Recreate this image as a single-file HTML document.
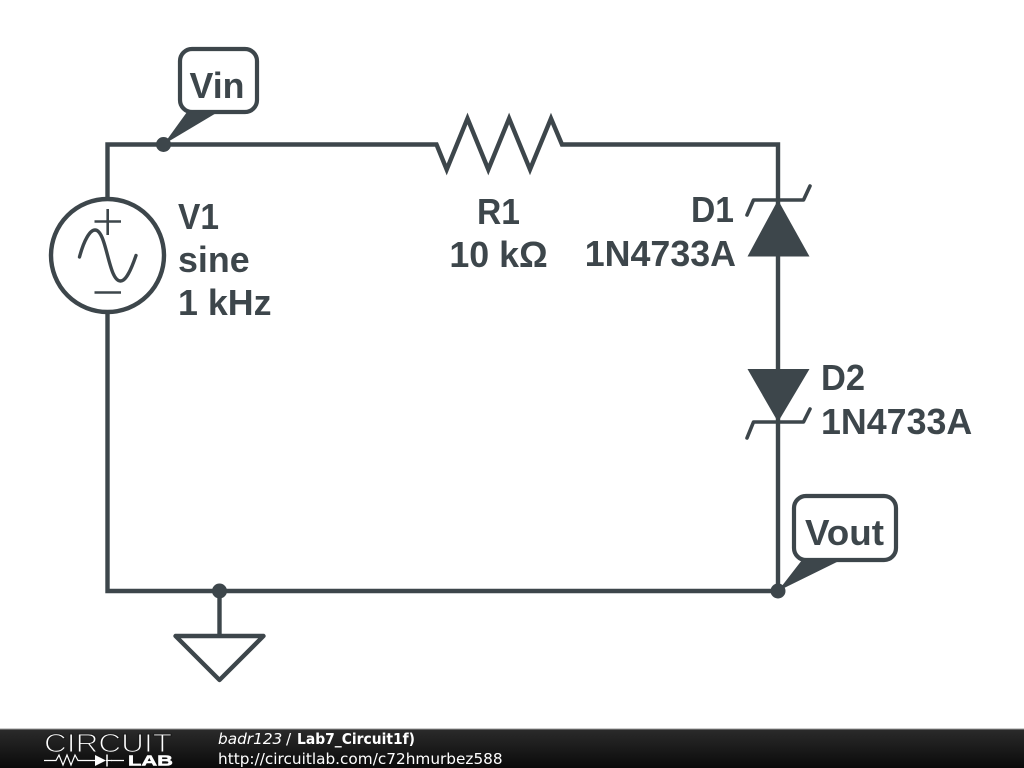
<!DOCTYPE html>
<html>
<head>
<meta charset="utf-8">
<style>
html,body{margin:0;padding:0;width:1024px;height:768px;overflow:hidden;background:#fff}
svg{display:block}
.l{font-family:"Liberation Sans",sans-serif;font-weight:bold;font-size:35.8px;fill:#3d464b}
.f{font-family:"DejaVu Sans",sans-serif;font-size:15.3px;fill:#fff}
</style>
</head>
<body>
<svg width="1024" height="768" viewBox="0 0 1024 768" xmlns="http://www.w3.org/2000/svg">
<defs>
<linearGradient id="bar" x1="0" y1="0" x2="0" y2="1">
<stop offset="0" stop-color="#2b2b2b"/>
<stop offset="1" stop-color="#0a0a0a"/>
</linearGradient>
</defs>
<rect width="1024" height="768" fill="#fff"/>
<g fill="none" stroke="#3d464b" stroke-width="4.400">
<!-- wires -->
<path d="M107.500 199V144.500H436.500L446.700 169.500L467.500 118.500L488.300 169.500L509.100 118.500L530 169.500L551 118.500L562 144.500H778V591H107.500V313"/>
<!-- source -->
<circle cx="107.500" cy="255.500" r="56.500"/>
<path d="M94.500 221.500H121M107.700 209V235M94.500 292.500H121" stroke-width="2.600"/>
<path d="M79.500 257C84 240 90 230 95 230C107 230 108 281 120.500 281C126 281 131 270 136 255.500" stroke-width="3.400" stroke-linecap="round"/>
<!-- ground -->
<path d="M219.500 591V636"/>
<path d="M175.500 636H263.500L219.500 680Z" stroke-linejoin="round"/>
<!-- zener bars -->
<path d="M747 215L753.500 200H803.500L810 186" stroke-linecap="round" stroke-linejoin="round" stroke-width="3.600"/>
<path d="M747 438L753.500 422H803.500L810 409" stroke-linecap="round" stroke-linejoin="round" stroke-width="3.600"/>
<!-- callout boxes -->
<rect x="180" y="49" width="77" height="63" rx="12" fill="#fff" stroke-width="4.200"/>
<rect x="794" y="496" width="102" height="64" rx="12" fill="#fff" stroke-width="4.200"/>
</g>
<g fill="#3d464b">
<path d="M778 200L809.500 256.500H747.500Z"/>
<path d="M747.500 369H809.500L778 422Z"/>
<path d="M187 112H218L163.500 144.500Z"/>
<path d="M802 560H841L778 591Z"/>
<circle cx="163.500" cy="144.500" r="7.500"/>
<circle cx="219.500" cy="591" r="7.500"/>
<circle cx="778" cy="591" r="7.500"/>
</g>
<text class="l" x="189.500" y="98" textLength="55" lengthAdjust="spacingAndGlyphs">Vin</text>
<text class="l" x="805" y="545" textLength="79" lengthAdjust="spacingAndGlyphs">Vout</text>
<text class="l" x="178" y="229" textLength="41" lengthAdjust="spacingAndGlyphs">V1</text>
<text class="l" x="178" y="272">sine</text>
<text class="l" x="178" y="315">1 kHz</text>
<text class="l" x="477" y="224" textLength="43" lengthAdjust="spacingAndGlyphs">R1</text>
<text class="l" x="498.500" y="267" text-anchor="middle">10 kΩ</text>
<text class="l" x="691" y="222" textLength="43" lengthAdjust="spacingAndGlyphs">D1</text>
<text class="l" x="736" y="266" text-anchor="end">1N4733A</text>
<text class="l" x="821" y="390" textLength="44" lengthAdjust="spacingAndGlyphs">D2</text>
<text class="l" x="821" y="434">1N4733A</text>
<!-- footer -->
<rect x="0" y="729" width="1024" height="39" fill="url(#bar)"/>
<rect x="0" y="728.500" width="1024" height="1" fill="#999"/>
<text x="44" y="752" textLength="128" lengthAdjust="spacingAndGlyphs" font-family="Liberation Sans, sans-serif" font-size="26" fill="#fff" stroke="#1c1c1c" stroke-width="1.100">CIRCUIT</text>
<text x="128" y="765.500" textLength="45" lengthAdjust="spacingAndGlyphs" font-family="Liberation Sans, sans-serif" font-weight="bold" font-size="15" fill="#fff" stroke="#fff" stroke-width="0.500">LAB</text>
<path d="M44 760.500H56L59 755L63 765L67 755L71 765L75 755L78 760.500H95M111 760.500H124" fill="none" stroke="#fff" stroke-width="1.200"/>
<path d="M95 755L106 760.500L95 766Z" fill="#fff"/>
<path d="M107 754.500V766.500" stroke="#fff" stroke-width="1.500"/>
<path d="M106 760.500H112" stroke="#fff" stroke-width="1.200"/>
<text class="f" x="218" y="744"><tspan font-style="italic">badr123</tspan></text>
<text class="f" x="286" y="744">/</text>
<text class="f" x="297" y="744" font-weight="bold" textLength="118" lengthAdjust="spacingAndGlyphs">Lab7_Circuit1f)</text>
<text class="f" x="218" y="764">http://circuitlab.com/c72hmurbez588</text>
</svg>
</body>
</html>
